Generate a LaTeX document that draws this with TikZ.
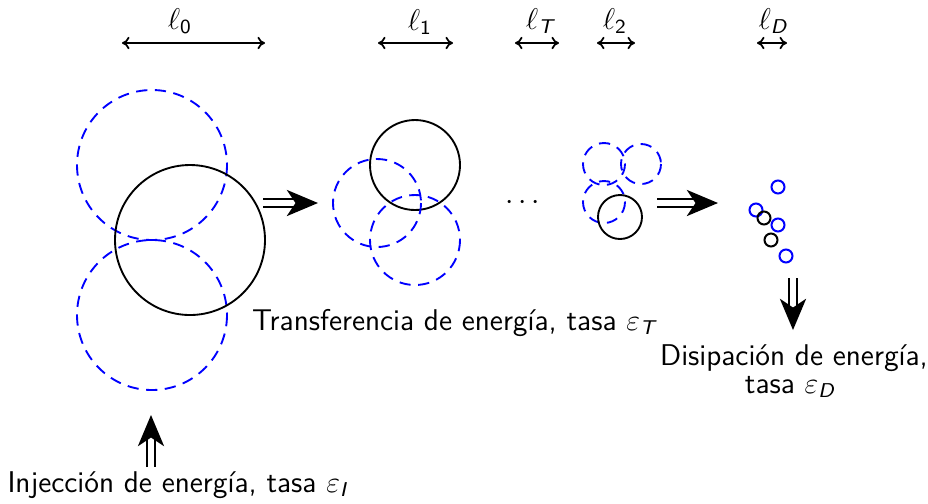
\documentclass[tikz,border=0pt]{standalone}
\usepackage{amsmath}
\usetikzlibrary{arrows.meta}
\begin{document}
\begin{tikzpicture}[x=0.4pt,y=-0.4pt,
  every node/.style={font=\sffamily\fontsize{12}{14}\selectfont, inner sep=0pt},
  dcirc/.style={draw=blue, line width=0.75pt, dash pattern=on 4.5pt off 3pt},
  scirc/.style={draw=black, line width=0.75pt},
  bdot/.style={draw=blue, line width=0.8pt},
  kdot/.style={draw=black, line width=0.8pt},
  scalearrow/.style={line width=0.7pt, {To[length=3pt,width=5pt]}-{To[length=3pt,width=5pt]}},
  shaft/.style={double, line width=0.6pt, double distance=2.6pt},
  bighead/.style={line width=0.6pt, -{Stealth[length=12.5pt,width=10.5pt,inset=3.5pt]}}
]
\useasboundingbox (0,0) rectangle (928,503);
\newcommand{\sfsub}[1]{\text{\sffamily #1}}
\newcommand{\sfisub}[1]{\text{\sffamily\itshape #1}}
% scale labels
\coordinate (s0a) at (122,43); \coordinate (s0b) at (265,43);
\coordinate (s1a) at (378,43); \coordinate (s1b) at (453,43);
\coordinate (sTa) at (515,43); \coordinate (sTb) at (559,43);
\coordinate (s2a) at (597,43); \coordinate (s2b) at (635,43);
\coordinate (sDa) at (757,43); \coordinate (sDb) at (787,43);
\draw[scalearrow] (s0a) -- (s0b);
\draw[scalearrow] (s1a) -- (s1b);
\draw[scalearrow] (sTa) -- (sTb);
\draw[scalearrow] (s2a) -- (s2b);
\draw[scalearrow] (sDa) -- (sDb);
\node[anchor=base] (l0) at (180,29) {$\ell_{\sfsub{0}}$};
\node[anchor=base] (l1) at (420,30) {$\ell_{\sfsub{1}}$};
\node[anchor=base] (lT) at (540,29) {$\ell_{\sfisub{T}}$};
\node[anchor=base] (l2) at (615,29) {$\ell_{\sfsub{2}}$};
\node[anchor=base] (lD) at (773,29) {$\ell_{\sfisub{D}}$};
% level 0
\draw[dcirc] (152,165) circle[radius=75];
\draw[dcirc] (152,315) circle[radius=75];
\draw[scirc] (190,240) circle[radius=75];
% level 1
\draw[scirc] (415,165) circle[radius=45];
\draw[dcirc] (377,203) circle[radius=44];
\draw[dcirc] (415,240) circle[radius=45];
\node (dots) at (525,203) {$\cdots$};
% level 2
\draw[dcirc] (604,164) circle[radius=21];
\draw[dcirc] (641,164) circle[radius=20];
\draw[dcirc] (604,202) circle[radius=21];
\draw[scirc] (620,217) circle[radius=22];
% dissipation scale
\draw[bdot] (778,187) circle[radius=6.5];
\draw[bdot] (756,210) circle[radius=6.5];
\draw[kdot] (764,218) circle[radius=6.5];
\draw[bdot] (778,225) circle[radius=6.5];
\draw[kdot] (771,240) circle[radius=6.5];
\draw[bdot] (786,256) circle[radius=6.5];
% transfer arrows
\coordinate (a1s) at (263,203); \coordinate (a1m) at (296,203); \coordinate (a1e) at (318,203);
\draw[shaft] (a1s) -- (a1m);
\draw[bighead] (a1m) -- (a1e);
\coordinate (a2s) at (657,203); \coordinate (a2m) at (696,203); \coordinate (a2e) at (718,203);
\draw[shaft] (a2s) -- (a2m);
\draw[bighead] (a2m) -- (a2e);
% dissipation arrow
\coordinate (a3s) at (793,278); \coordinate (a3m) at (793,309); \coordinate (a3e) at (793,330);
\draw[shaft] (a3s) -- (a3m);
\draw[bighead] (a3m) -- (a3e);
% injection arrow
\coordinate (a4s) at (151,467); \coordinate (a4m) at (151,436); \coordinate (a4e) at (151,415);
\draw[shaft] (a4s) -- (a4m);
\draw[bighead] (a4m) -- (a4e);
% texts
\node[anchor=base] (transf) at (454,330) {Transferencia de energía, tasa $\varepsilon_{\sfisub{T}}$};
\node[anchor=base] (disipA) at (794,365) {Disipación de energía,};
\node[anchor=base] (disipB) at (790,393) {tasa $\varepsilon_{\sfisub{D}}$};
\node[anchor=base west] (iny) at (7,492) {Injección de energía, tasa $\varepsilon_{\sfisub{I}}$};
\end{tikzpicture}
\end{document}
